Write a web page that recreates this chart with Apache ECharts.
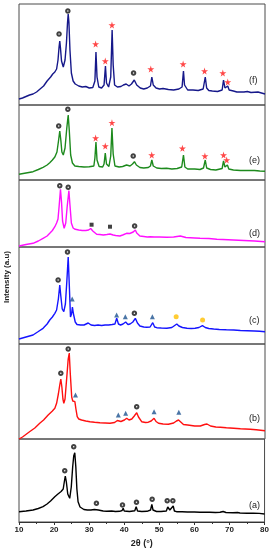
<!DOCTYPE html>
<html><head><meta charset="utf-8">
<script src="https://cdn.jsdelivr.net/npm/echarts@6/dist/echarts.min.js"></script>
<style>html,body{margin:0;padding:0;background:#fff}#c{width:272px;height:550px}</style>
</head><body><div id="c"></div>
<script>
// 2theta tick labels
const xTicks = [10, 20, 30, 40, 50, 60, 70, 80];
const panelNames = ['(f)', '(e)', '(d)', '(c)', '(b)', '(a)'];

// Pattern data [2theta, intensity (a.u., per-panel units)]
const patternF = [[10,6],[11,7],[12,8.5],[13,10],[14,11],[15,13],[16,16],[17,19],[18,24],[19,28],[19.6,31],[20.2,33],[20.7,36],[21.1,45],[21.4,58],[21.6,64],[21.8,57],[22.1,44],[22.6,38],[23.1,45],[23.5,62],[23.8,82],[24.0,91],[24.2,83],[24.5,55],[24.9,32],[25.4,24],[26,21],[27,19],[28,18],[29,18.5],[30,17],[31,17.5],[31.6,24],[31.9,53],[32.2,28],[32.7,18],[33.5,17],[34.2,20],[34.6,39],[34.9,22],[35.5,18],[36.1,28],[36.5,75],[36.8,40],[37.2,20],[38,18],[39,18.5],[39.7,20],[40.5,21],[41.3,19],[42,21],[42.8,25],[43.5,20],[44.5,17],[45.5,16],[46.5,17],[47.4,19],[47.8,28],[48.2,20],[49,17],[50,16],[51,16.5],[52.5,15.5],[54,15],[55.5,16],[56.4,18],[56.8,34],[57.1,20],[58,15],[59.5,15],[61,14.5],[62.4,16],[63.0,28],[63.4,17],[64,14.5],[65,14],[66.5,13.5],[67.8,15],[68.2,25],[68.6,17],[69.0,16],[69.4,19],[69.8,15],[71,14],[72,13],[74,13],[75,13.5],[76,12.5],[78,13],[79,12],[80,11]];
const patternE = [[10,5.7],[12,7],[14,8.3],[15.5,10.5],[16.85,12.7],[18,15],[18.75,17.3],[19.5,20],[20.2,23],[20.8,28],[21.2,38],[21.6,49],[21.9,40],[22.2,28],[22.6,25],[23.1,32],[23.6,52],[24.0,65],[24.3,50],[24.7,25],[25.2,17],[25.9,14],[27,13.5],[28.5,13],[30,13.3],[31.3,14],[31.6,22],[31.9,38],[32.2,20],[32.8,13.5],[33.8,13],[34.2,16],[34.55,27],[34.9,16],[35.6,13.5],[36.1,24],[36.45,52],[36.8,26],[37.3,14],[38.5,13],[39.5,13.5],[40.6,15],[41.6,14],[42.3,16],[42.85,18.3],[43.4,15],[44.4,12.5],[45.5,12],[46.8,12.5],[47.4,14],[47.8,20],[48.2,14],[49.2,12],[50.5,11.5],[52,11.7],[53.5,11],[55,11.5],[56.3,13],[56.8,25],[57.2,13],[58,11],[60,11],[61.5,10.5],[62.5,12],[63.0,20],[63.4,12],[64.5,10.5],[66,10],[67.8,11.5],[68.2,19],[68.6,13],[69.0,12.5],[69.3,15],[69.7,11],[71,10],[73,9.5],[75,9.5],[77,9.5],[78.5,9],[80,8.7]];
const patternD = [[10,1],[12,2.5],[14,3.7],[15.5,6],[16.85,8.7],[18,11],[18.75,13.7],[19.5,16.5],[20.2,20.3],[20.7,24],[21.1,28],[21.4,40],[21.8,57.7],[22.1,45],[22.4,26],[22.85,18.7],[23.3,24],[23.7,40],[24.2,56.3],[24.5,42],[24.9,24],[25.4,19],[26,17.7],[27,17],[28,16.5],[29,16.5],[29.8,17],[30.4,18.5],[31,16],[32.1,12.7],[33,12.5],[34,12],[35,12.5],[35.9,13],[36.8,12],[37.5,11.5],[38.7,11],[39.5,12],[40.6,13.7],[41.5,13.5],[42.5,15],[43.1,17],[43.5,14],[44.4,11],[45.5,10.5],[46.5,10],[47.3,10.3],[47.8,11.5],[48.5,10],[50,10],[52,9.7],[54,10],[55.9,11],[57.5,9.5],[60,9],[61.5,8.7],[64,8.5],[66.3,7.7],[68,7.5],[71,7],[74,6.5],[77,6],[80,5.3]];
const patternC = [[10,5],[12,7],[14,9],[15.5,12.5],[16.85,15.7],[18,20],[18.75,24],[19.5,27],[20.2,30.7],[20.7,34],[21.2,45],[21.6,59],[21.9,48],[22.3,35],[22.75,32.3],[23.2,40],[23.6,62],[24.0,87],[24.3,60],[24.65,27],[24.95,30],[25.2,37],[25.5,30],[26.0,22],[26.5,19.5],[27.5,19],[28.5,19],[29.7,21],[30.5,19],[31.5,18.5],[32.5,19],[33.5,18.5],[34.5,19],[35.5,19],[36.5,19.5],[37.3,20],[37.8,25.7],[38.3,20],[38.9,19],[39.6,20],[40.35,22],[41.0,19.5],[41.6,20],[42.4,22],[43.1,25.7],[43.7,21],[44.4,18],[45.5,17],[46.35,16.7],[47.3,17],[48.06,21.3],[48.6,17],[49.2,16.3],[50.5,16],[52.06,15.7],[53.5,16.5],[54.3,18.5],[54.9,20],[55.5,18],[56.5,16.5],[57.8,15.7],[59,15.5],[60.1,15.7],[61.2,16.5],[62.2,18.3],[63,16.5],[64,15.5],[65.4,15],[67,14.5],[69,14.2],[71.1,14],[73,13.5],[75,13.3],[77,13],[78.5,12.7],[80,12.3]];
const patternB = [[10,0],[11,2],[13,7.3],[14.5,11],[15.9,15.7],[17,19],[18.3,24],[19.5,28],[20.2,30.7],[20.7,35.7],[21.2,45],[21.6,54],[21.9,60],[22.2,52],[22.5,40],[22.75,35.7],[23.1,40],[23.6,62],[24.0,80],[24.3,86],[24.6,65],[25.0,42],[25.3,38],[25.7,38],[25.9,37.3],[26.2,30],[26.56,22.3],[27.0,20],[27.8,19],[29.0,18],[30.2,17.3],[31.5,16.8],[33.0,16.3],[34.5,16],[35.9,15.7],[37.2,16.5],[38.0,18.5],[38.45,19.7],[39.0,17.5],[39.5,17.5],[40.0,19],[40.64,20.7],[41.3,19],[42.1,20],[42.8,23],[43.5,26.3],[44.0,22],[44.9,17.3],[46.0,16.5],[46.8,16.8],[47.6,18],[48.44,20.7],[49.0,17.5],[49.7,15.7],[51,15],[52.5,14.7],[54,16],[54.8,18],[55.4,19],[55.9,17],[56.8,14.5],[58,14],[60,13],[61.6,13],[62.8,14.5],[63.5,15],[64.5,13],[66,12],[67.3,11.7],[69,11.2],[71.1,10.7],[73,10.2],[75.8,9.7],[77.5,9.2],[80,8.3]];
const patternA = [[10,10.3],[12,11],[14,12],[15.5,13.5],[16.85,15.3],[18,18],[19,21],[20.2,25.3],[21.1,28],[22.0,30.5],[22.6,33],[23.0,42],[23.2,46],[23.5,40],[23.9,28],[24.46,23.7],[24.9,35],[25.3,55],[25.6,66],[25.9,69.3],[26.2,55],[26.5,33],[26.84,20.3],[27.4,15],[27.79,13.7],[28.5,12.5],[29.5,12],[30.5,12],[31.5,12.5],[32.07,13.7],[32.6,12],[33.0,11.5],[34.0,11],[34.4,12],[35,10.8],[36.4,11],[37.5,10.5],[38.7,10.7],[39.4,11.5],[39.69,13.7],[40.0,11],[41.5,10.5],[43.0,11.2],[43.4,15.3],[43.8,11],[45,10.5],[46.5,10.7],[47.5,12],[47.87,17.7],[48.2,12],[49.2,10.5],[50.5,10.5],[52.0,11],[52.4,15],[52.63,17],[53.0,12],[53.5,11.5],[53.96,16],[54.3,11],[54.91,10.3],[56.5,10.2],[58,10],[60,10],[61.57,9.7],[63.5,9.8],[63.95,11],[64.4,9.7],[66,9.5],[67.3,9.7],[68.2,10.5],[69,9.5],[71,9.2],[72.3,9.5],[73,9],[75,8.8],[76.8,8.8],[78.5,8.6],[80,8]];

// Phase markers [2theta, height]
const circlesF = [[21.4,71],[23.9,94],[42.6,32]];
const starsF = [[31.8,61],[34.55,44],[36.45,80],[47.5,36],[56.7,41],[62.8,34],[68.0,32],[69.4,23]];
const circlesE = [[21.3,54],[23.9,70.7],[42.5,24]];
const starsE = [[31.8,42],[34.55,34],[36.45,57.3],[47.77,25],[56.5,31.7],[62.9,24],[68.2,25],[69.1,20]];
const circlesD = [[21.6,61.3],[24.0,59.7],[42.9,21]];
const squaresD = [[30.65,22.3],[35.9,20.3]];
const circlesC = [[21.13,64],[23.8,92],[42.83,30.7]];
const trianglesC = [[25.13,45],[37.78,29],[40.26,27.3],[47.96,27.3]];
const dotsC = [[54.72,27.3],[62.24,24]];
const circlesB = [[21.9,65.7],[24.0,90],[43.49,32.3]];
const trianglesB = [[26.08,44],[38.26,24],[40.35,25.7],[48.44,27.3],[55.48,26.7]];
const circlesA = [[23.04,51.3],[25.6,75.3],[32.07,18.7],[39.5,17],[43.49,19.7],[47.96,22.7],[52.25,21.3],[53.86,21.3]];

// Layout (pixels)
const panels = [
  {top: 4, h: 101, color: '#16188a', data: patternF},
  {top: 105, h: 75, color: '#1d8a1d', data: patternE},
  {top: 180, h: 67, color: '#ff10ff', data: patternD},
  {top: 247, h: 97, color: '#1515ff', data: patternC},
  {top: 344, h: 95, color: '#ff1010', data: patternB},
  {top: 439, h: 83, color: '#000000', data: patternA}
];
const markerSets = [
  [['circle', circlesF], ['star', starsF]],
  [['circle', circlesE], ['star', starsE]],
  [['circle', circlesD], ['square', squaresD]],
  [['circle', circlesC], ['tri', trianglesC], ['dot', dotsC]],
  [['circle', circlesB], ['tri', trianglesB]],
  [['circle', circlesA]]
];
const STAR = 'path://M50,0 L61,35 L98,35 L68,57 L79,91 L50,70 L21,91 L32,57 L2,35 L39,35 Z';
const markerStyle = {
  circle: {symbol: 'emptyCircle', symbolSize: 3.5, itemStyle: {color: '#111', borderWidth: 1}},
  star: {symbol: STAR, symbolSize: 7, itemStyle: {color: '#ff1a1a'}},
  square: {symbol: 'rect', symbolSize: 4, itemStyle: {color: '#111'}},
  tri: {symbol: 'triangle', symbolSize: 5, itemStyle: {color: '#1d5290'}},
  dot: {symbol: 'circle', symbolSize: 5, itemStyle: {color: '#ffbf00'}}
};

const FONT = 'Liberation Sans';
const grid = [], xAxis = [], yAxis = [], series = [], graphic = [];
panels.forEach((p, i) => {
  const last = i === panels.length - 1;
  grid.push({left: 19, right: 7, top: p.top, height: p.h, show: true, borderColor: '#4a4a4a', borderWidth: 1, containLabel: false});
  xAxis.push({
    gridIndex: i, type: 'value', min: xTicks[0], max: xTicks[xTicks.length - 1], interval: 10,
    axisLine: {show: last, lineStyle: {color: '#333', width: 1}},
    axisTick: {show: last, length: 3, lineStyle: {color: '#333'}},
    minorTick: {show: last, splitNumber: 2, length: 2, lineStyle: {color: '#333'}},
    axisLabel: {show: last, fontFamily: FONT, fontSize: 8, fontWeight: 'bold', color: '#222', margin: 4},
    splitLine: {show: false},
    name: last ? '2θ (°)' : '', nameLocation: 'middle', nameGap: 17,
    nameTextStyle: {fontFamily: FONT, fontSize: 9, fontWeight: 'bold', color: '#222'}
  });
  yAxis.push({gridIndex: i, type: 'value', min: 0, max: p.h, show: false, splitLine: {show: false}});
  series.push({
    type: 'line', xAxisIndex: i, yAxisIndex: i, data: p.data, showSymbol: false, silent: true,
    lineStyle: {color: p.color, width: 1.4}, animation: false
  });
  markerSets[i].forEach(([kind, pts]) => {
    const st = markerStyle[kind];
    series.push(Object.assign({type: 'scatter', xAxisIndex: i, yAxisIndex: i, data: pts, animation: false, z: 5}, JSON.parse(JSON.stringify(st))));
  });
  graphic.push({type: 'text', left: 249, top: p.top + p.h - [24, 19, 13, 23, 20, 16][i] - 5,
    style: {text: panelNames[i], font: '9px ' + FONT, fill: '#222'}});
});
graphic.push({type: 'text', x: 7, y: 277, rotation: Math.PI / 2,
  style: {text: 'Intensity (a.u)', font: 'bold 8px ' + FONT, fill: '#222', align: 'center', verticalAlign: 'middle'}});

const chart = echarts.init(document.getElementById('c'), null, {renderer: 'canvas'});
chart.setOption({animation: false, grid, xAxis, yAxis, series, graphic});
</script></body></html>
